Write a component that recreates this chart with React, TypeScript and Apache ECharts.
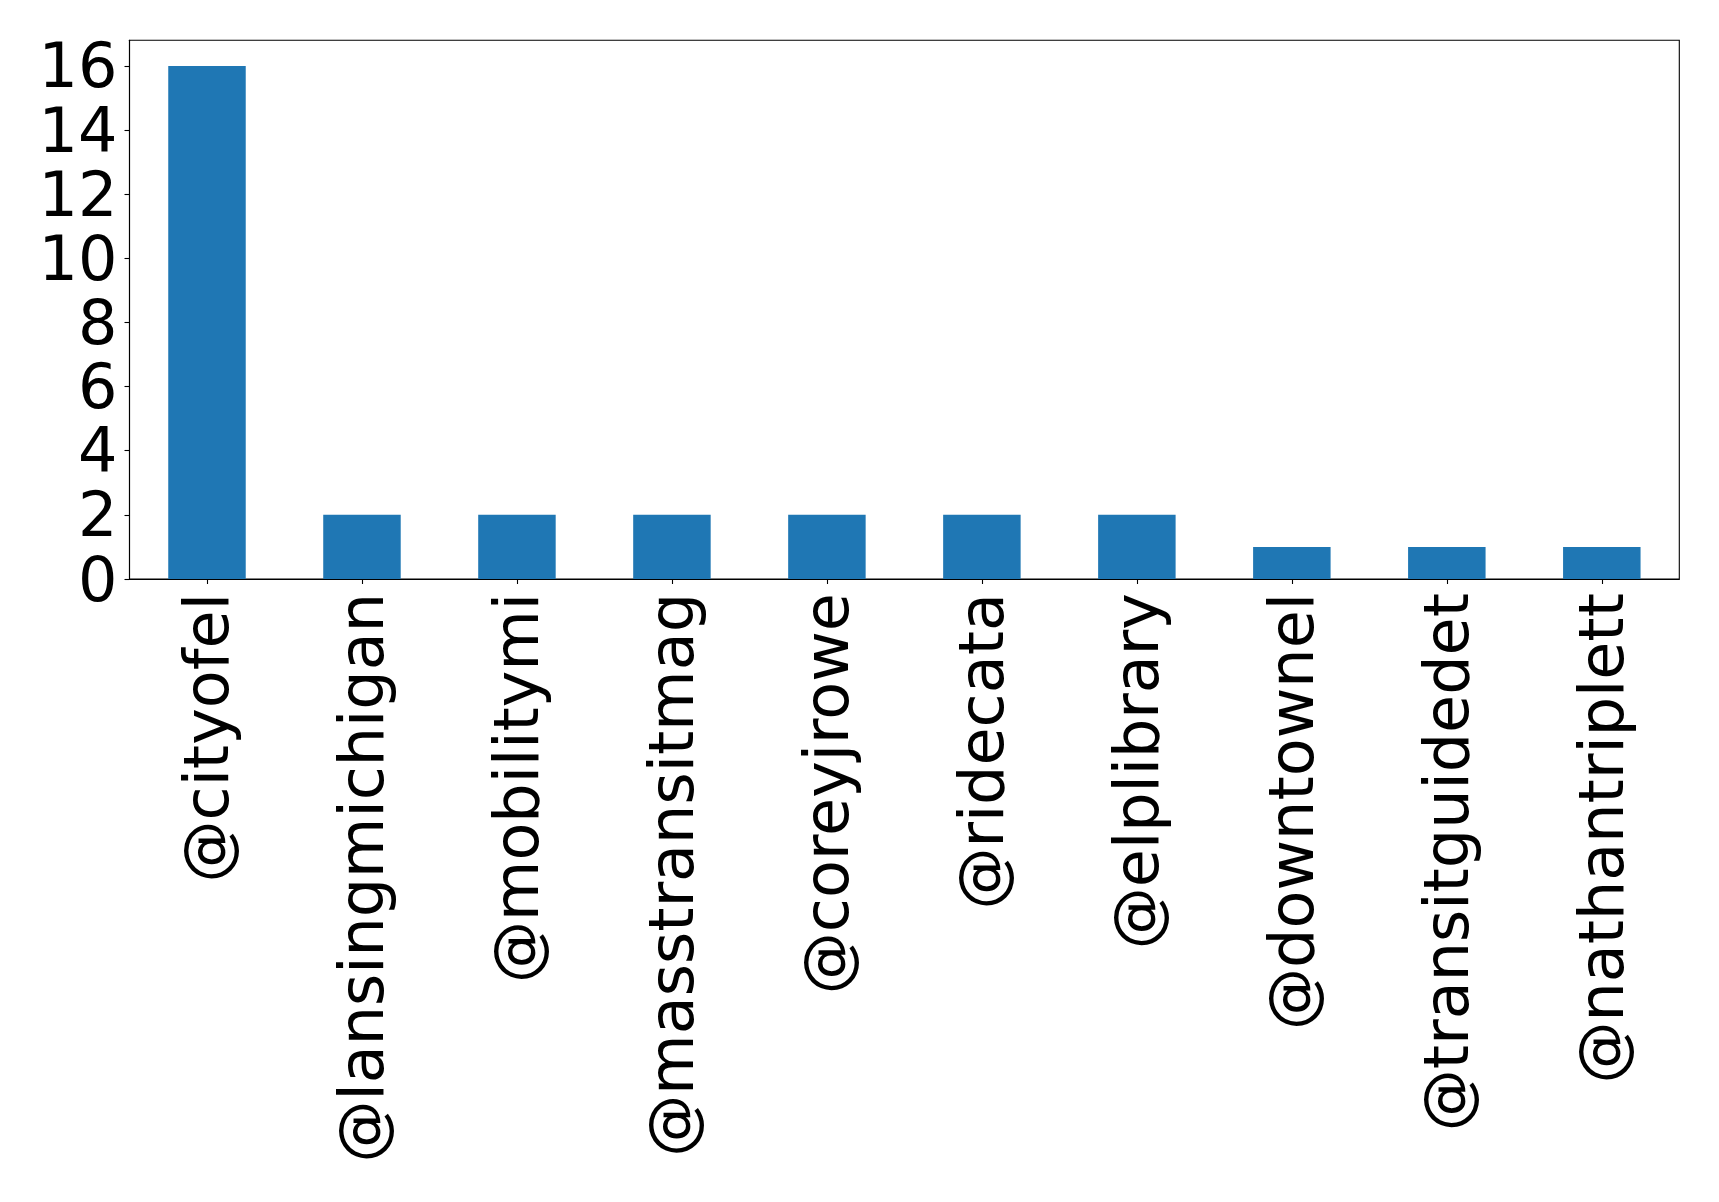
import React, { useEffect, useRef } from "react";
import * as echarts from "echarts";

// Mention counts per account
const accounts: string[] = [
  "@cityofel",
  "@lansingmichigan",
  "@mobilitymi",
  "@masstransitmag",
  "@coreyjrowe",
  "@ridecata",
  "@elplibrary",
  "@downtownel",
  "@transitguidedet",
  "@nathantriplett",
];
const counts: number[] = [16, 2, 2, 2, 2, 2, 2, 1, 1, 1];
const yTicks: number[] = [0, 2, 4, 6, 8, 10, 12, 14, 16];

const FONT = "DejaVu Sans";
const BLUE = "#1f77b4";

export default function App() {
  const ref = useRef<HTMLDivElement>(null);

  useEffect(() => {
    if (!ref.current) return;
    const chart = echarts.init(ref.current, null, { renderer: "svg" });
    const yMax = Math.max(...counts) * 1.05;
    chart.setOption({
      animation: false,
      backgroundColor: "#ffffff",
      grid: {
        left: 129.5,
        right: 39.7,
        top: 40.3,
        bottom: 623,
        show: true,
        borderColor: "#000000",
        borderWidth: 1.1,
        containLabel: false,
      },
      xAxis: {
        type: "category",
        data: accounts,
        boundaryGap: true,
        axisLine: { show: true, lineStyle: { color: "#000000", width: 1.1 } },
        axisTick: {
          show: true,
          alignWithLabel: true,
          length: 5,
          lineStyle: { color: "#000000", width: 1.1 },
        },
        axisLabel: {
          rotate: 90,
          interval: 0,
          margin: 14,
          color: "#000000",
          fontFamily: FONT,
          fontSize: 62,
          lineHeight: 62,
        },
        splitLine: { show: false },
      },
      yAxis: {
        type: "value",
        min: 0,
        max: yMax,
        interval: 2,
        axisLine: { show: true, lineStyle: { color: "#000000", width: 1.1 } },
        axisTick: {
          show: true,
          length: 5,
          lineStyle: { color: "#000000", width: 1.1 },
        },
        axisLabel: {
          margin: 12,
          color: "#000000",
          fontFamily: FONT,
          fontSize: 62,
          lineHeight: 54,
          showMaxLabel: false,
          formatter: (v: number) => (yTicks.includes(v) ? String(v) : ""),
        },
        splitLine: { show: false },
      },
      series: [
        {
          type: "bar",
          data: counts,
          barWidth: "50%",
          itemStyle: { color: BLUE },
        },
      ],
    });
    return () => chart.dispose();
  }, []);

  return (
    <div
      ref={ref}
      style={{ position: "fixed", left: 0, top: 0, width: 1719, height: 1202, background: "#fff" }}
    />
  );
}
